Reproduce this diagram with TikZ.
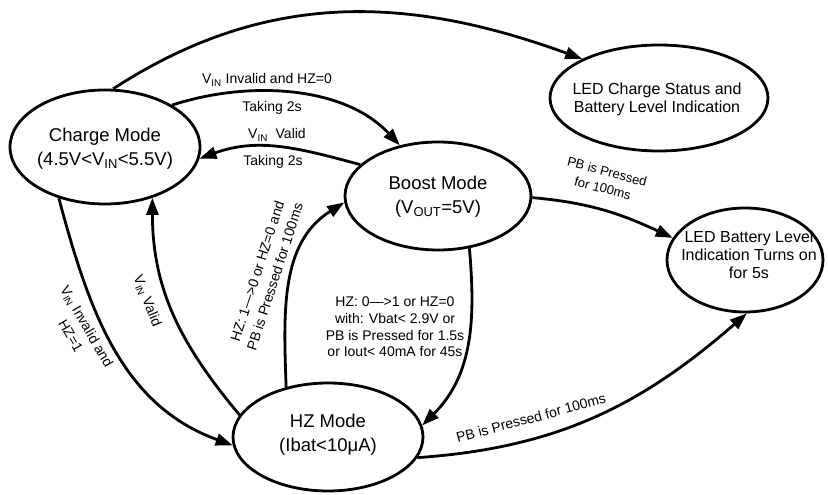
\documentclass[tikz,border=0pt]{standalone}
\usepackage{fontspec}
\setmainfont{Liberation Sans}
\usetikzlibrary{shapes.geometric,arrows.meta}
\newcommand\sbs[1]{\textsubscript{#1}}
\begin{document}
\begin{tikzpicture}[x=1pt,y=1pt,
  state/.style={draw, ellipse, line width=2.8pt, inner sep=0pt},
  modetext/.style={align=center, font=\fontsize{18.5}{24}\selectfont, inner sep=0pt},
  ledtext/.style={align=center, font=\fontsize{16}{18}\selectfont, inner sep=0pt},
  lbl/.style={align=center, font=\fontsize{14}{17}\selectfont, inner sep=0pt},
  rlbl/.style={align=center, font=\fontsize{14}{18.5}\selectfont, inner sep=0pt},
  slbl/.style={align=center, font=\fontsize{13}{17}\selectfont, inner sep=0pt},
  arr/.style={line width=2.8pt, -{Triangle[length=17pt,width=12pt]}},
]
\useasboundingbox (0,0) rectangle (828,495);

% states
\node[state, minimum width=190pt, minimum height=114pt] (charge) at (105,348) {};
\node[state, minimum width=186pt, minimum height=108pt] (boost) at (438,299) {};
\node[state, minimum width=218pt, minimum height=106pt] (ledc) at (659,397) {};
\node[state, minimum width=156pt, minimum height=104pt] (ledb) at (745,235) {};
\node[state, minimum width=190pt, minimum height=108pt] (hz) at (328,58) {};

\node[modetext] (chargeT) at (105,346.5) {Charge Mode\\(4.5V<V\sbs{IN}<5.5V)};
\node[modetext] (boostT) at (438,298.5) {Boost Mode\\(V\sbs{OUT}=5V)};
\node[modetext] (hzT) at (328,60) {HZ Mode\\(Ibat<10μA)};
\node[ledtext] (ledcT) at (657,396) {LED Charge Status and\\Battery Level Indication};
\node[ledtext] (ledbT) at (749,240) {LED Battery Level\\Indication Turns on\\for 5s};

% connectors
\draw[arr] (charge.82) to[out=33,in=160] (ledc.153);
\draw[arr] (charge.32) to[out=18,in=133,looseness=0.9] (boost.127);
\draw[arr] (boost.158) to[out=165,in=20] (charge.-7);
\draw[arr] (charge.-132) to[out=-75,in=160] (hz.185);
\draw[arr] (hz.166) to[out=130,in=-90] (charge.-47);
\draw[arr] (hz.130) to[out=92,in=-148] (boost.184);
\draw[arr] (boost.-59) to[out=-85,in=45] (hz.7);
\draw[arr] (boost.-1) to[out=-5,in=155] (ledb.163);
\draw[arr] (hz.-13) to[out=4,in=-139] (ledb.-88);

% labels
\node[lbl] (l2a) at (267,415) {V\sbs{IN} Invalid and HZ=0};
\node[lbl] (l2b) at (272,387) {Taking 2s};
\node[lbl] (l3a) at (277,360) {V\sbs{IN}\ \ Valid};
\node[lbl] (l3b) at (273,333) {Taking 2s};
\node[rlbl, rotate=-60] (l4) at (79,164) {V\sbs{IN} Invalid and\\HZ=1};
\node[lbl, rotate=-68] (l5) at (147,194) {V\sbs{IN} Valid};
\node[rlbl, rotate=72] (l6) at (266,221) {HZ: 1—>0 or HZ=0 and\\PB is Pressed for 100ms};
\node[lbl, font=\fontsize{14}{16.7}\selectfont] (l7) at (395,168) {HZ: 0—>1 or HZ=0\\with: Vbat< 2.9V or\\PB is Pressed for 1.5s\\or Iout< 40mA for 45s};
\node[slbl, rotate=-15] (l8) at (605,315) {PB is Pressed\\for 100ms};
\node[lbl, rotate=15] (l9) at (531,77) {PB is Pressed for 100ms};
\end{tikzpicture}
\end{document}
